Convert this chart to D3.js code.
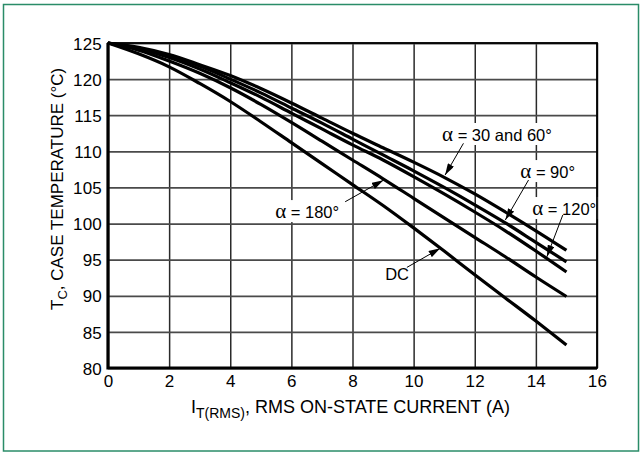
<!DOCTYPE html>
<html>
<head>
<meta charset="utf-8">
<script src="https://cdn.jsdelivr.net/npm/d3@7"></script>
<style>
  body { margin: 0; background: #fff; }
  svg text { font-family: "Liberation Sans Narrow", "Liberation Sans", Arial, sans-serif; }
</style>
</head>
<body>
<svg id="chart" width="642" height="455"></svg>
<script>
// RMS on-state current (A)
const currents = [0, 1, 2, 3, 4, 5, 6, 7, 8, 9, 10, 11, 12, 13, 14, 15];
// case temperature (°C) for each conduction angle
const temp30and60 = [125, 124.4, 123.4, 122.0, 120.5, 118.7, 116.7, 114.6, 112.5, 110.5, 108.5, 106.4, 104.1, 101.6, 99.0, 96.3];
const temp90 = [125, 124.3, 123.2, 121.8, 120.0, 118.1, 116.0, 113.9, 111.7, 109.5, 107.3, 105.0, 102.6, 100.1, 97.4, 94.7];
const temp120 = [125, 124.2, 123.0, 121.4, 119.5, 117.5, 115.3, 113.1, 110.9, 108.8, 106.5, 104.1, 101.6, 99.0, 96.2, 93.3];
const temp180 = [125, 124.0, 122.5, 120.8, 118.8, 116.5, 114.0, 111.4, 108.8, 106.2, 103.5, 100.8, 98.1, 95.4, 92.6, 89.9];
const tempDC = [125, 123.5, 121.7, 119.4, 116.9, 114.1, 111.2, 108.3, 105.4, 102.5, 99.4, 96.2, 92.9, 89.7, 86.5, 83.2];

const xTicks = [0, 2, 4, 6, 8, 10, 12, 14, 16];
const yTicks = [80, 85, 90, 95, 100, 105, 110, 115, 120, 125];

// label text, label anchor, arrow tail, arrow tip (data units)
const labelNames = ['30 and 60°', '90°', '120°', '180°', 'DC'];
const labelAt = [[10.93, 111.43], [13.49, 106.3], [13.88, 101.18], [5.47, 100.76], [9.07, 92.17]];
const arrowFrom = [[11.63, 111.11], [13.76, 106.03], [14.88, 101.18], [7.76, 103.02], [9.78, 93.93]];
const arrowTo = [[11.03, 106.72], [13.0, 100.49], [14.36, 95.4], [9.01, 106.0], [10.87, 96.57]];

const margin = { top: 43, right: 45, bottom: 87, left: 108 };
const fullW = 642, fullH = 455;
const width = fullW - margin.left - margin.right;
const height = fullH - margin.top - margin.bottom;

const root = d3.select('#chart');

// outer frame
root.append('rect')
    .attr('x', 3.5).attr('y', 4.5)
    .attr('width', 635).attr('height', 446.5)
    .attr('fill', 'none')
    .attr('stroke', '#2a8c68')
    .attr('stroke-width', 1.5);

const svg = root.append('g')
    .attr('transform', `translate(${margin.left},${margin.top})`);

const xScale = d3.scaleLinear().domain([0, 16]).range([0, width]);
const yScale = d3.scaleLinear().domain([80, 125]).range([height, 0]);

// grid
svg.append('g')
    .attr('transform', `translate(0,${height})`)
    .call(d3.axisBottom(xScale).tickValues(xTicks).tickSize(-height).tickFormat(''))
    .call(g => g.select('.domain').remove())
    .selectAll('.tick line')
    .attr('stroke', '#2a2a2a')
    .attr('stroke-width', 1.5);

svg.append('g')
    .call(d3.axisLeft(yScale).tickValues(yTicks).tickSize(-width).tickFormat(''))
    .call(g => g.select('.domain').remove())
    .selectAll('.tick line')
    .attr('stroke', '#4a4a4a')
    .attr('stroke-width', 1.8);

// tick labels
svg.append('g')
    .attr('transform', `translate(0,${height})`)
    .call(d3.axisBottom(xScale).tickValues(xTicks).tickSize(0).tickPadding(7))
    .call(g => g.select('.domain').remove())
    .selectAll('text')
    .attr('fill', '#000')
    .style('font-size', '17px')
    .style('letter-spacing', '0.2px');

svg.append('g')
    .call(d3.axisLeft(yScale).tickValues(yTicks).tickSize(0).tickPadding(6))
    .call(g => g.select('.domain').remove())
    .selectAll('text')
    .attr('fill', '#000')
    .attr('dy', '0.36em')
    .style('font-size', '17px')
    .style('letter-spacing', '0.2px');

// annotation label backgrounds and labels (drawn before curves)
const labelLayer = svg.append('g');

// plot frame
svg.append('rect')
    .attr('width', width).attr('height', height)
    .attr('fill', 'none')
    .attr('stroke', '#000')
    .attr('stroke-width', 1.8);
svg.append('path')
    .attr('d', `M0,0V${height}H${width}`)
    .attr('fill', 'none')
    .attr('stroke', '#000')
    .attr('stroke-width', 3.2);

// curves
const line = d3.line()
    .x((d, i) => xScale(currents[i]))
    .y(d => yScale(d))
    .curve(d3.curveMonotoneX);

[temp30and60, temp90, temp120, temp180, tempDC].forEach(series => {
    svg.append('path')
        .datum(series)
        .attr('fill', 'none')
        .attr('stroke', '#000')
        .attr('stroke-width', 3.2)
        .attr('d', line);
});

// annotations
svg.append('defs').append('marker')
    .attr('id', 'head')
    .attr('viewBox', '0 0 10 6')
    .attr('refX', 10).attr('refY', 3)
    .attr('markerWidth', 12).attr('markerHeight', 7)
    .attr('markerUnits', 'userSpaceOnUse')
    .attr('orient', 'auto')
    .append('path')
    .attr('d', 'M0,0L10,3L0,6Z')
    .attr('fill', '#000');

labelNames.forEach((name, i) => {
    const bg = labelLayer.append('rect').attr('fill', '#fff');
    const t = labelLayer.append('text')
        .attr('x', xScale(labelAt[i][0]))
        .attr('y', yScale(labelAt[i][1]))
        .attr('fill', '#000')
        .style('font-size', '16.5px');
    if (name !== 'DC') {
        t.append('tspan')
            .style('font-family', '"Liberation Serif", serif')
            .style('font-size', '21px')
            .text('α');
        t.append('tspan').text(' = ' + name);
    } else {
        t.text(name);
    }
    const bb = t.node().getBBox();
    bg.attr('x', bb.x - 2).attr('y', bb.y + 1)
        .attr('width', bb.width + 4).attr('height', bb.height - 2);

    svg.append('line')
        .attr('x1', xScale(arrowFrom[i][0])).attr('y1', yScale(arrowFrom[i][1]))
        .attr('x2', xScale(arrowTo[i][0])).attr('y2', yScale(arrowTo[i][1]))
        .attr('stroke', '#000')
        .attr('stroke-width', 1)
        .attr('marker-end', 'url(#head)');
});

// axis titles
const xTitle = svg.append('text')
    .attr('x', 83)
    .attr('y', height + 45)
    .attr('fill', '#000')
    .style('font-family', '"Liberation Sans", Arial, sans-serif')
    .style('font-size', '18px');
xTitle.append('tspan').text('I');
xTitle.append('tspan').attr('dy', 5).style('font-size', '14px').text('T(RMS)');
xTitle.append('tspan').attr('dy', -5).text(', RMS ON-STATE CURRENT (A)');

const yTitle = svg.append('text')
    .attr('transform', `translate(${63 - margin.left},${310 - margin.top}) rotate(-90)`)
    .attr('fill', '#000')
    .style('font-size', '17px');
yTitle.append('tspan').text('T');
yTitle.append('tspan').attr('dy', 4).style('font-size', '13px').text('C');
yTitle.append('tspan').attr('dy', -4).text(', CASE TEMPERATURE (°C)');
</script>
</body>
</html>
